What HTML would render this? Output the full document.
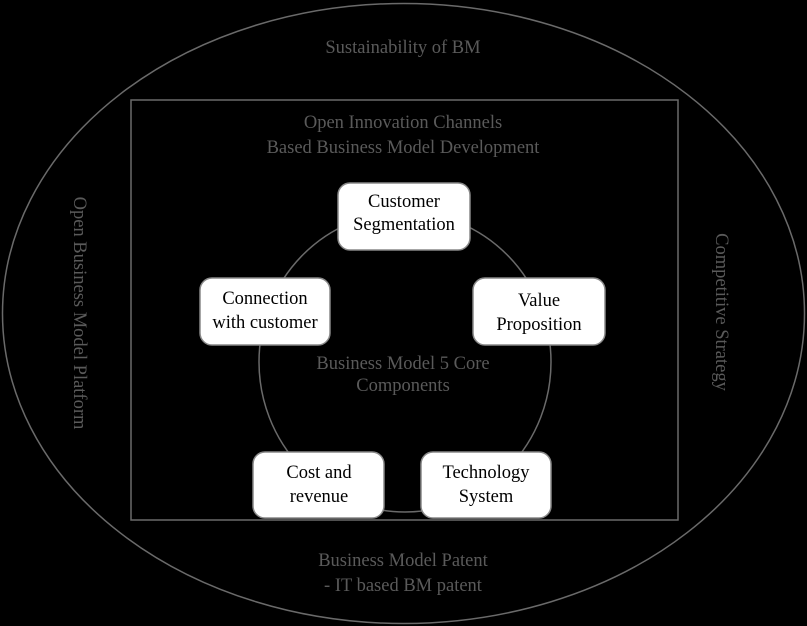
<!DOCTYPE html>
<html><head><style>
html,body{margin:0;padding:0;background:#000;}
</style></head><body>
<svg width="807" height="626" xmlns="http://www.w3.org/2000/svg" style="display:block;background:#000">
<g fill="none" stroke="#6a6a6a" stroke-width="1.5">
<ellipse cx="403.5" cy="313.5" rx="401" ry="310"/>
<rect x="131" y="100" width="547" height="420"/>
<ellipse cx="405" cy="362" rx="146" ry="150"/>
</g>
<g fill="#fff" stroke="#888" stroke-width="1.5">
<rect x="338" y="183" width="132" height="67" rx="12"/>
<rect x="200" y="278" width="130" height="67" rx="12"/>
<rect x="473" y="278" width="132" height="67" rx="12"/>
<rect x="253" y="452" width="131" height="66" rx="12"/>
<rect x="421" y="452" width="130" height="66" rx="12"/>
</g>
<g font-family="Liberation Serif, serif" font-size="18.5" fill="#000" text-anchor="middle">
<text x="404" y="207">Customer</text><text x="404" y="230">Segmentation</text>
<text x="265" y="304">Connection</text><text x="265" y="328">with customer</text>
<text x="539" y="306">Value</text><text x="539" y="330">Proposition</text>
<text x="319" y="478">Cost and</text><text x="319" y="502">revenue</text>
<text x="486" y="478">Technology</text><text x="486" y="502">System</text>
</g>
<g font-family="Liberation Serif, serif" font-size="18.5" fill="#5a5a5a" text-anchor="middle">
<text x="403" y="53">Sustainability of BM</text>
<text x="403" y="128">Open Innovation Channels</text>
<text x="403" y="153">Based Business Model Development</text>
<text x="403" y="369">Business Model 5 Core</text>
<text x="403" y="391">Components</text>
<text x="403" y="566">Business Model Patent</text>
<text x="403" y="591">- IT based BM patent</text>
<text transform="translate(74,313) rotate(90)">Open Business Model Platform</text>
<text transform="translate(716,312) rotate(90)">Competitive Strategy</text>
</g>
</svg>
</body></html>
